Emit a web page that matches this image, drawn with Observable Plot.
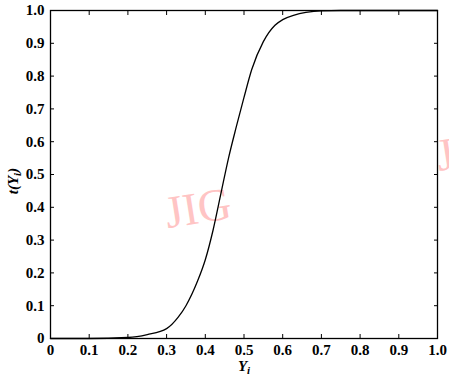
<!DOCTYPE html>
<html>
<head>
<meta charset="utf-8">
<script src="https://cdn.jsdelivr.net/npm/d3@7"></script>
<script src="https://cdn.jsdelivr.net/npm/@observablehq/plot@0.6"></script>
<style>
  html, body { margin: 0; padding: 0; background: #fff; }
  svg text { font-family: "Liberation Serif", "Times New Roman", serif !important; font-variant: normal !important; }
</style>
</head>
<body>
<div id="chart"></div>
<script>
// Curve t(Y_i)
const yiValues = [0, 0.1, 0.2, 0.25, 0.3, 0.33, 0.35, 0.38, 0.4, 0.42, 0.44, 0.46, 0.48, 0.5, 0.52, 0.55, 0.58, 0.6, 0.63, 0.66, 0.7, 0.75, 0.8, 0.9, 1.0];
const tValues  = [0, 0, 0.003, 0.012, 0.03, 0.065, 0.10, 0.175, 0.24, 0.33, 0.44, 0.55, 0.645, 0.735, 0.82, 0.905, 0.955, 0.972, 0.986, 0.994, 0.999, 1, 1, 1, 1];
const xTicks = [0, 0.1, 0.2, 0.3, 0.4, 0.5, 0.6, 0.7, 0.8, 0.9, 1.0];
const yTicks = [0, 0.1, 0.2, 0.3, 0.4, 0.5, 0.6, 0.7, 0.8, 0.9, 1.0];
const watermark = "JIG";

const data = yiValues.map((x, i) => ({x, y: tValues[i]}));
const fmt = d => d === 0 ? "0" : d.toFixed(1);
const blank = () => "";
const serif = "Liberation Serif";

const plot = Plot.plot({
  width: 449,
  height: 376,
  marginLeft: 50,
  marginRight: 12,
  marginTop: 10,
  marginBottom: 38,
  style: {fontFamily: serif, fontSize: "15px", fontWeight: "bold", background: "#fff", color: "#000"},
  x: {domain: [0, 1], label: null},
  y: {domain: [0, 1], label: null},
  marks: [
    Plot.text([watermark], {frameAnchor: "middle", dx: -46, dy: 34, text: d => d, rotate: -9,
      fontFamily: serif, fontSize: 46, fontWeight: "normal", fill: "#ffc4c4", letterSpacing: 3}),
    Plot.text([watermark], {frameAnchor: "right", dx: -1, dy: -18, text: d => d, rotate: -9, textAnchor: "start",
      fontFamily: serif, fontSize: 46, fontWeight: "normal", fill: "#ffc4c4", letterSpacing: 3}),
    // tick labels
    Plot.axisX({ticks: xTicks, tickSize: 0, tickPadding: 6, tickFormat: fmt, label: null,
      fontFamily: serif, fontSize: 15, fontWeight: "bold"}),
    Plot.axisY({ticks: yTicks, tickSize: 0, tickPadding: 6, tickFormat: fmt, label: null,
      fontFamily: serif, fontSize: 15, fontWeight: "bold"}),
    // inward ticks on all four sides
    Plot.axisX({ticks: xTicks, tickSize: 4, dy: -4, tickFormat: blank, label: null}),
    Plot.axisX({anchor: "top", ticks: xTicks, tickSize: 4, dy: 4, tickFormat: blank, label: null}),
    Plot.axisY({ticks: yTicks, tickSize: 4, dx: 4, tickFormat: blank, label: null}),
    Plot.axisY({anchor: "right", ticks: yTicks, tickSize: 4, dx: -4, tickFormat: blank, label: null}),
    Plot.frame({stroke: "#000", strokeWidth: 1.3}),
    Plot.line(data, {x: "x", y: "y", stroke: "#000", strokeWidth: 1.3, curve: "monotone-x"})
  ]
});

document.getElementById("chart").appendChild(plot);

// Axis titles with subscripts
const svg = d3.select(plot);
const yl = svg.append("text")
  .attr("transform", "translate(18,181) rotate(-90)")
  .attr("text-anchor", "middle")
  .attr("font-size", 15)
  .attr("font-weight", "bold")
  .attr("font-style", "italic")
  .attr("fill", "#000");
yl.append("tspan").text("t(Y");
yl.append("tspan").attr("font-size", 11).attr("dy", 3).text("i");
yl.append("tspan").attr("dy", -3).text(")");

const xl = svg.append("text")
  .attr("x", 244).attr("y", 371)
  .attr("text-anchor", "middle")
  .attr("font-size", 15)
  .attr("font-weight", "bold")
  .attr("font-style", "italic")
  .attr("fill", "#000");
xl.append("tspan").text("Y");
xl.append("tspan").attr("font-size", 11).attr("dy", 3).text("i");
</script>
</body>
</html>
